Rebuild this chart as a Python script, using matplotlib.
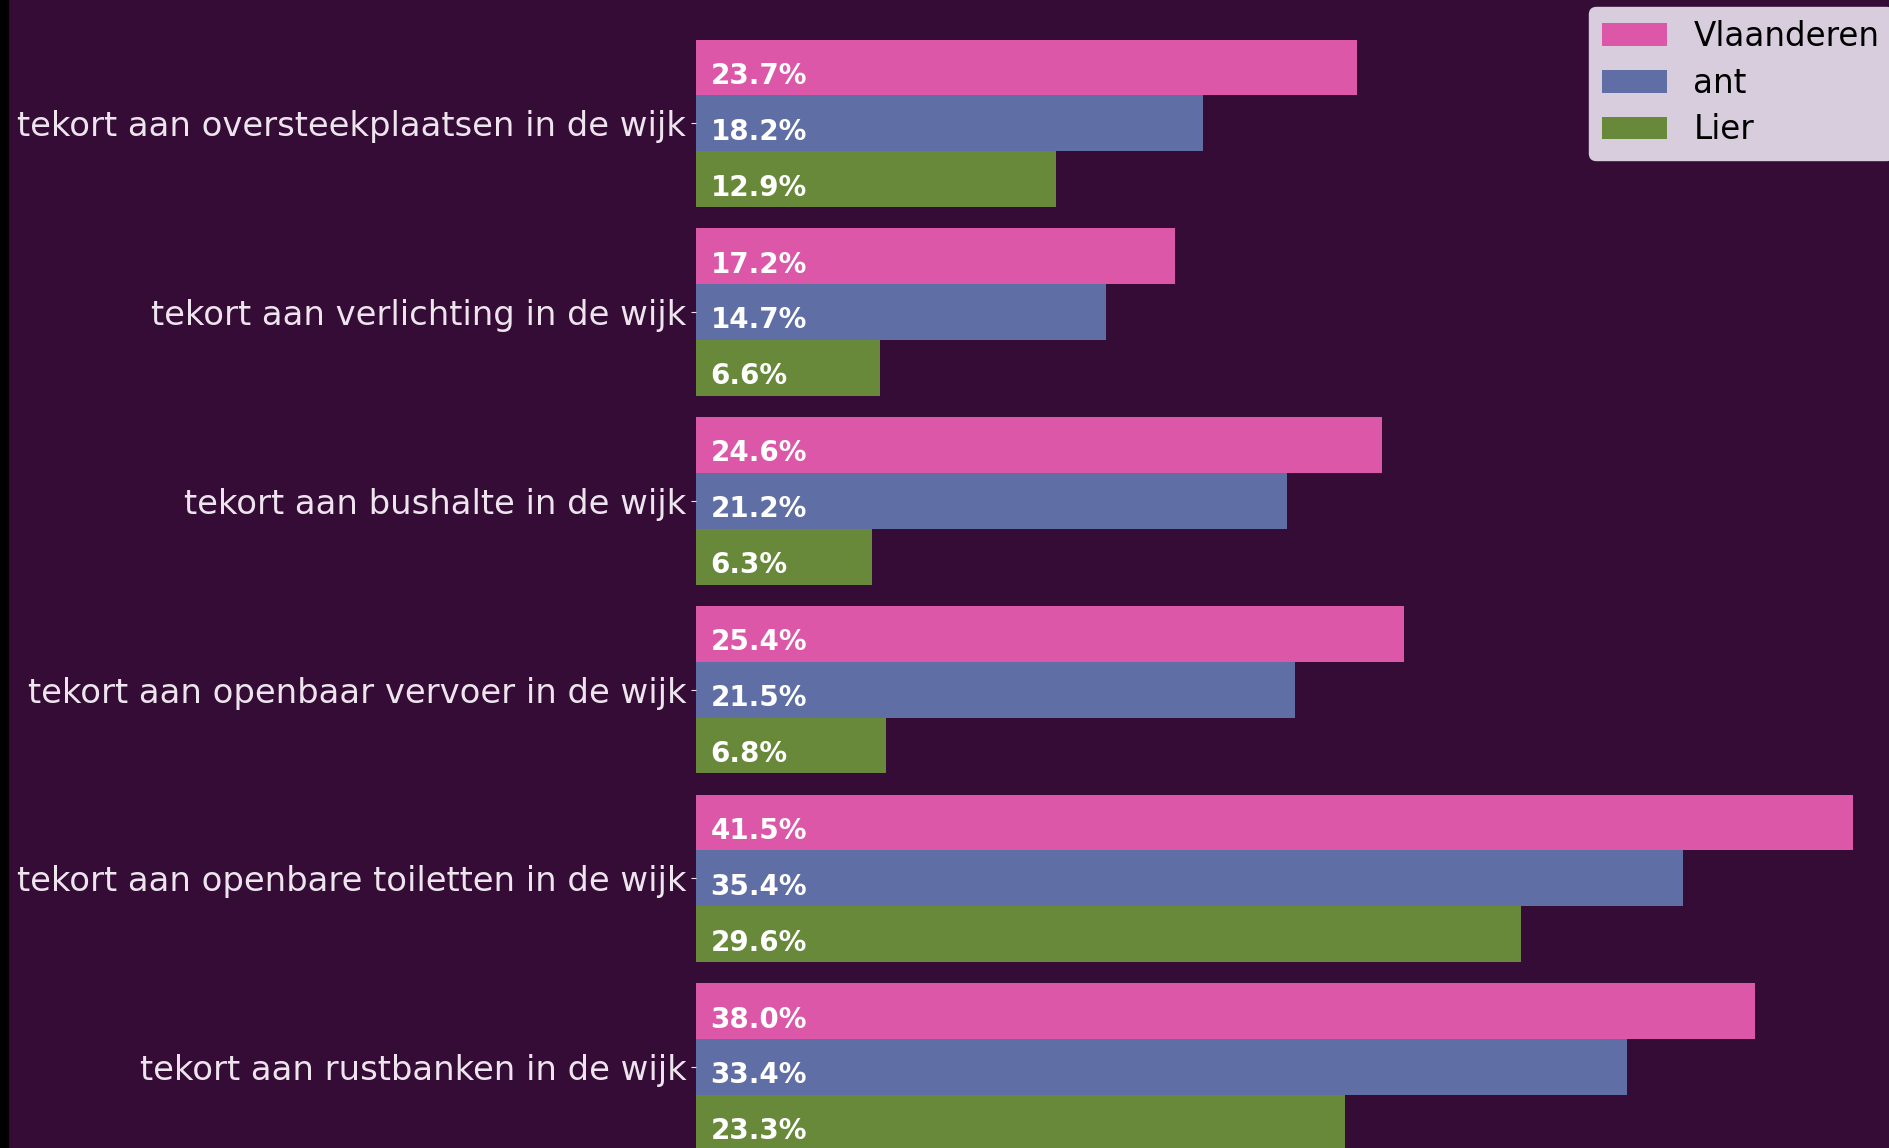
import matplotlib
matplotlib.use("Agg")
import matplotlib.pyplot as plt
from matplotlib.patches import Rectangle
import numpy as np

categories = [
    "tekort aan oversteekplaatsen in de wijk",
    "tekort aan verlichting in de wijk",
    "tekort aan bushalte in de wijk",
    "tekort aan openbaar vervoer in de wijk",
    "tekort aan openbare toiletten in de wijk",
    "tekort aan rustbanken in de wijk",
]
series_names = ["Vlaanderen", "ant", "Lier"]
vlaanderen = [23.7, 17.2, 24.6, 25.4, 41.5, 38.0]
ant = [18.2, 14.7, 21.2, 21.5, 35.4, 33.4]
lier = [12.9, 6.6, 6.3, 6.8, 29.6, 23.3]

colors = ["#dc57a8", "#5f6ea5", "#68883a"]
bg = "#350c35"
text_col = "#ede4ee"

W, H, DPI = 1889, 1148, 100
fig = plt.figure(figsize=(W / DPI, H / DPI), dpi=DPI, facecolor=bg)
ax = fig.add_axes([696 / W, 0, 1 - 696 / W, 1])
ax.set_facecolor(bg)

y = np.arange(len(categories))
h = 0.296
for i, (vals, name, c) in enumerate(zip([vlaanderen, ant, lier], series_names, colors)):
    pos = y + (i - 1) * h
    ax.barh(pos, vals, height=h, color=c, label=name)
    for p, v in zip(pos, vals):
        ax.annotate(f"{v:.1f}%", xy=(0, p), xytext=(10.4, -6),
                    textcoords="offset points", va="center", ha="left",
                    color="white", fontsize=20, fontweight="bold")

ax.set_xlim(0, 42.8)
ax.set_ylim(5.429, -0.654)
ax.set_yticks(y)
ax.set_yticklabels(categories, fontsize=24.4, color=text_col)
ax.tick_params(axis="y", colors=text_col, labelcolor=text_col)
ax.set_xticks([])
for s in ax.spines.values():
    s.set_visible(False)

leg = ax.legend(loc="upper left", bbox_to_anchor=(1589 / W, 1 - 7 / H),
                bbox_transform=fig.transFigure, borderaxespad=0,
                fontsize=23.5, labelspacing=0.42, facecolor="#d8cddc",
                edgecolor="#d8cddc", framealpha=1)
for t in leg.get_texts():
    t.set_color("black")

fig.add_artist(Rectangle((0, 0), 8 / W, 1, transform=fig.transFigure,
                         color="black", zorder=10))

fig.savefig("out.png", dpi=DPI, facecolor=bg)
